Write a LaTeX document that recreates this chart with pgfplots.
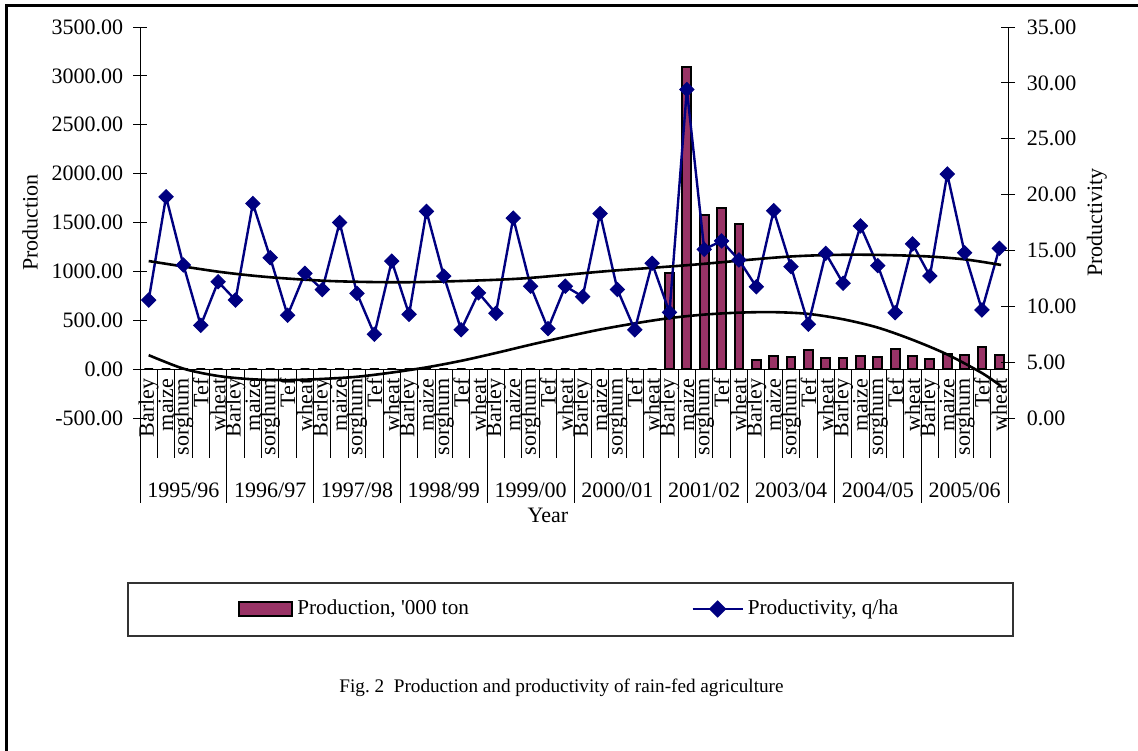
\documentclass[border=0pt]{standalone}
\usepackage{fontspec}
\setmainfont{Liberation Serif}
\usepackage{pgfplots}
\pgfplotsset{compat=1.18}

\definecolor{barplum}{HTML}{993366}
\definecolor{prodnavy}{HTML}{000080}

\pgfplotsset{
  twin/.style={
    scale only axis, width=434pt, height=195.5pt,
    at={(70pt,-209pt)}, anchor=south west,
    xmin=-0.5, xmax=49.5, clip=false,
    tick align=center, major tick length=7pt,
    tick style={black, line width=0.5pt},
    axis line style={black, line width=0.5pt},
    /pgf/number format/assume math mode=true,
    tick label style={font=\fontsize{11}{13}\selectfont},
    label style={font=\fontsize{11}{13}\selectfont},
    yticklabel style={/pgf/number format/fixed, /pgf/number format/fixed zerofill,
      /pgf/number format/precision=2, /pgf/number format/1000 sep={}},
  },
}

\begin{document}
\fontsize{10.5}{12.6}\selectfont
\begin{tikzpicture}
\useasboundingbox (0,0) rectangle (569pt,-375pt);
\draw[line width=1.7pt] (3.3pt,-420pt) -- (3.3pt,-2.8pt) -- (620pt,-2.8pt);

% left axis: production, '000 ton
\begin{axis}[twin,
  ymin=-500, ymax=3500, ytick={-500,0,...,3500},
  axis y line*=left, axis x line*=middle,
  yticklabel style={xshift=-1.2pt},
  xtick={0,...,49},
  xticklabels={Barley,maize,sorghum,Tef,wheat,Barley,maize,sorghum,Tef,wheat,
    Barley,maize,sorghum,Tef,wheat,Barley,maize,sorghum,Tef,wheat,
    Barley,maize,sorghum,Tef,wheat,Barley,maize,sorghum,Tef,wheat,
    Barley,maize,sorghum,Tef,wheat,Barley,maize,sorghum,Tef,wheat,
    Barley,maize,sorghum,Tef,wheat,Barley,maize,sorghum,Tef,wheat},
  xticklabel style={rotate=90, anchor=east, inner sep=1pt},
  xtick style={draw=none},
  ylabel={Production},
  ylabel style={at={(axis description cs:-0.1267,0.5)}, anchor=center},
  xlabel={Year},
  xlabel style={at={(axis description cs:0.470,-0.248)}, anchor=center},
]
\addplot[ybar, bar width=4.4pt, fill=barplum, draw=black, line width=1pt] coordinates {
  (0,0) (1,0) (2,0) (3,0) (4,0) (5,0) (6,0) (7,0) (8,0) (9,0)
  (10,0) (11,0) (12,0) (13,0) (14,0) (15,0) (16,0) (17,0) (18,0) (19,0)
  (20,0) (21,0) (22,0) (23,0) (24,0) (25,0) (26,0) (27,0) (28,0) (29,0)
  (30,985) (31,3086) (32,1575) (33,1650) (34,1483)
  (35,92) (36,136) (37,126) (38,194) (39,109)
  (40,109) (41,136) (42,126) (43,211) (44,136)
  (45,102) (46,153) (47,143) (48,222) (49,143)
};
% trend of production
\addplot[black, line width=1.3pt, smooth] coordinates {
  (0,143) (2,5) (4,-70) (6,-104) (8,-112) (10,-100) (12,-78) (14,-35)
  (16,18) (18,85) (20,165) (22,250) (24,330) (26,405) (28,468) (30,522)
  (32,558) (34,578) (36,583) (38,565) (40,510) (42,425) (44,300)
  (46,150) (48,-40) (49.1,-174)
};
% category separators
\pgfplotsinvokeforeach{-0.5,0.5,...,49.5}{
  \draw[black, line width=0.5pt] (axis cs:#1,0) -- (axis cs:#1,-910);
}
\pgfplotsinvokeforeach{-0.5,4.5,...,49.5}{
  \draw[black, line width=0.5pt] (axis cs:#1,0) -- (axis cs:#1,-1371);
}
\begin{scope}[every node/.style={font=\fontsize{11}{13}\selectfont}]
\node at (axis cs:2,-1238) {1995/96};
\node at (axis cs:7,-1238) {1996/97};
\node at (axis cs:12,-1238) {1997/98};
\node at (axis cs:17,-1238) {1998/99};
\node at (axis cs:22,-1238) {1999/00};
\node at (axis cs:27,-1238) {2000/01};
\node at (axis cs:32,-1238) {2001/02};
\node at (axis cs:37,-1238) {2003/04};
\node at (axis cs:42,-1238) {2004/05};
\node at (axis cs:47,-1238) {2005/06};
\end{scope}
\end{axis}

% right axis: productivity, q/ha
\begin{axis}[twin,
  ymin=0, ymax=35, ytick={0,5,...,35},
  axis y line*=right, axis x line=none,
  yticklabel style={xshift=2.2pt},
  ylabel={Productivity},
  ylabel style={at={(axis description cs:1.1025,0.5)}, anchor=center, rotate=0},
  legend columns=2,
  legend style={at={(axis description cs:0.1129,-0.4885)}, anchor=west,
    draw=none, fill=none, inner sep=0pt, font=\fontsize{10.6}{12.6}\selectfont,
    /tikz/every odd column/.append style={column sep=0pt}},
]
\addlegendimage{legend image code/.code={
  \draw[fill=barplum, draw=black, line width=1pt] (0.5pt,-3.5pt) rectangle (27pt,3.5pt);}}
\addlegendentry{\makebox[195pt][l]{Production, \textquotesingle000 ton}}
\addplot[prodnavy, line width=1.2pt, mark=square*, mark size=2.5pt,
  mark options={rotate=45, fill=prodnavy, line width=0.5pt},
  legend image code/.code={
    \draw[prodnavy, line width=1.2pt] (0pt,0pt) -- (25pt,0pt);
    \fill[prodnavy] (12.5pt,0pt) +(0,3.5pt) -- +(3.5pt,0) -- +(0,-3.5pt) -- +(-3.5pt,0) -- cycle;}]
coordinates {
  (0,10.56) (1,19.8) (2,13.7) (3,8.3) (4,12.2)
  (5,10.56) (6,19.2) (7,14.35) (8,9.2) (9,12.95)
  (10,11.5) (11,17.5) (12,11.15) (13,7.5) (14,14.05)
  (15,9.28) (16,18.5) (17,12.7) (18,7.9) (19,11.2)
  (20,9.37) (21,17.9) (22,11.8) (23,8.0) (24,11.8)
  (25,10.86) (26,18.3) (27,11.5) (28,7.9) (29,13.85)
  (30,9.46) (31,29.4) (32,15.1) (33,15.85) (34,14.15)
  (35,11.75) (36,18.56) (37,13.55) (38,8.4) (39,14.74)
  (40,12.06) (41,17.19) (42,13.64) (43,9.43) (44,15.58)
  (45,12.71) (46,21.84) (47,14.8) (48,9.67) (49,15.19)
};
\addlegendentry{Productivity, q/ha}
% trend of productivity
\addplot[black, line width=1.3pt, smooth, forget plot] coordinates {
  (0,14.05) (4,13.1) (7,12.6) (10.5,12.26) (14.4,12.15) (17.9,12.26)
  (21.6,12.5) (26.5,13.16) (31.2,13.7) (36.8,14.44) (40.6,14.62)
  (44.4,14.5) (47,14.2) (49.1,13.7)
};
\end{axis}

\draw[black!80, line width=0.6pt] (64pt,-291.5pt) rectangle (506.5pt,-318pt);
\node[font=\fontsize{9.6}{11.5}\selectfont] at (280.75pt,-344pt)
  {Fig.~2\ \ Production and productivity of rain-fed agriculture};
\end{tikzpicture}
\end{document}
